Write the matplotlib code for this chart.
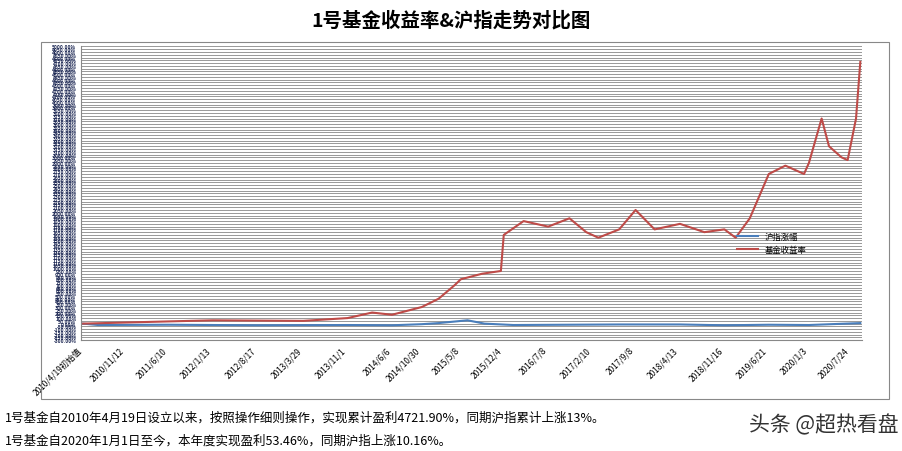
import matplotlib.pyplot as plt
import numpy as np
import pandas as pd

plt.rcParams['font.family'] = ['Noto Sans CJK SC', 'DejaVu Sans']

# 基金收益率 (%)
fund_dates = ["2010-04-19", "2010-11-12", "2011-06-10", "2012-01-13", "2012-08-17", "2013-03-29",
              "2013-11-01", "2014-03-01", "2014-06-06", "2014-10-30", "2015-01-20", "2015-04-10", "2015-05-08",
              "2015-08-20", "2015-11-20", "2015-12-04", "2016-03-10", "2016-07-08", "2016-10-20",
              "2017-01-10", "2017-03-10", "2017-06-20", "2017-09-08", "2017-12-10", "2018-04-13",
              "2018-08-10", "2018-11-16", "2019-01-10", "2019-03-20", "2019-06-21", "2019-09-10",
              "2019-12-10", "2020-01-03", "2020-03-05", "2020-04-10", "2020-06-10", "2020-07-10",
              "2020-08-20", "2020-09-10"]
fund_vals = [0, 20, 40, 60, 55, 50, 100, 200, 160, 300, 450, 700, 800, 900, 950, 1600, 1850, 1750, 1900,
             1650, 1550, 1700, 2050, 1700, 1800, 1650, 1700, 1550, 1900, 2700, 2850, 2700, 2900,
             3700, 3200, 3000, 2950, 3700, 4722]

# 沪指涨幅 (%)
idx_dates = ["2010-04-19", "2010-07-01", "2011-06-10", "2012-08-17", "2013-11-01", "2014-06-06",
             "2014-10-30", "2015-01-20", "2015-06-10", "2015-09-01", "2016-01-20", "2017-06-20",
             "2018-04-13", "2018-11-16", "2019-06-21", "2020-01-03", "2020-09-10"]
idx_vals = [0, -25, -20, -30, -25, -30, -10, 10, 60, 0, -25, -15, -15, -30, -20, -25, 10]

tick_dates = ["2010-04-19", "2010-11-12", "2011-06-10", "2012-01-13", "2012-08-17", "2013-03-29",
              "2013-11-01", "2014-06-06", "2014-10-30", "2015-05-08", "2015-12-04", "2016-07-08",
              "2017-02-10", "2017-09-08", "2018-04-13", "2018-11-16", "2019-06-21", "2020-01-03",
              "2020-07-24"]
tick_labels = ["2010/4/19初始值", "2010/11/12", "2011/6/10", "2012/1/13", "2012/8/17", "2013/3/29",
               "2013/11/1", "2014/6/6", "2014/10/30", "2015/5/8", "2015/12/4", "2016/7/8",
               "2017/2/10", "2017/9/8", "2018/4/13", "2018/11/16", "2019/6/21", "2020/1/3",
               "2020/7/24"]

fig = plt.figure(figsize=(9.03, 4.52), dpi=100)
ax = fig.add_axes([0.09, 0.245, 0.865, 0.65])

ax.plot(pd.to_datetime(idx_dates), idx_vals, color='#4a7ebb', lw=1.5, label='沪指涨幅')
ax.plot(pd.to_datetime(fund_dates), fund_vals, color='#be4b48', lw=1.5, label='基金收益率')

yt = np.arange(-300, 5001, 50)
ax.set_yticks(yt)
ax.set_yticklabels([f"{v:.2f}%" for v in yt], fontsize=3.5, color='#1f2a55', fontweight='bold')
ax.set_ylim(-300, 5000)
ax.grid(axis='y', color='#888888', lw=0.6)
ax.set_xlim(pd.Timestamp("2010-04-10"), pd.Timestamp("2020-09-20"))
ax.set_xticks(pd.to_datetime(tick_dates))
ax.set_xticklabels(tick_labels, rotation=45, ha='right', fontsize=6)
ax.tick_params(length=0)
for s in ['top', 'right']:
    ax.spines[s].set_visible(False)
ax.spines['left'].set_color('#888888')
ax.spines['bottom'].set_color('#888888')

ax.legend(loc='center left', bbox_to_anchor=(0.83, 0.33), frameon=False, fontsize=6, handlelength=2.5)

fig.text(0.5, 0.955, "1号基金收益率&沪指走势对比图", ha='center', va='center', fontsize=14, fontweight='bold')
fig.add_artist(plt.Rectangle((0.045, 0.115), 0.94, 0.79, transform=fig.transFigure, fill=False,
                             edgecolor='#888888', lw=0.8))
fig.text(0.005, 0.075, "1号基金自2010年4月19日设立以来，按照操作细则操作，实现累计盈利4721.90%，同期沪指累计上涨13%。",
         fontsize=9, va='center')
fig.text(0.005, 0.025, "1号基金自2020年1月1日至今，本年度实现盈利53.46%，同期沪指上涨10.16%。",
         fontsize=9, va='center')
fig.text(0.995, 0.06, "头条 @超热看盘", ha='right', va='center', fontsize=15, color='#333333')

fig.savefig("out.png", dpi=100)
